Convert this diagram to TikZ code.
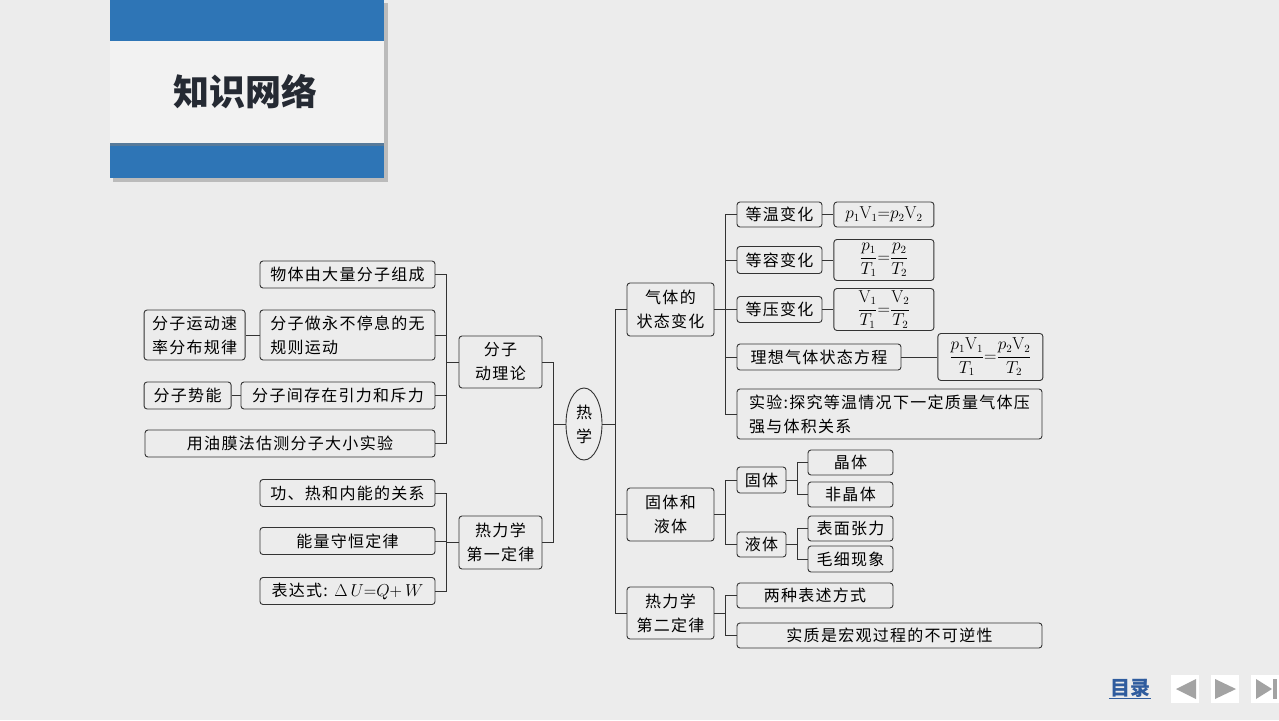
\documentclass[tikz,border=0pt]{standalone}
\usepackage[no-math]{fontspec}
\setmainfont{Noto Sans CJK SC}[LetterSpace=8]
\newfontfamily\titlefont{Noto Sans CJK SC}
\usepackage{xcolor}
\usepackage{tikz}
\usetikzlibrary{shapes.geometric,positioning}

\definecolor{bandblue}{HTML}{2E75B6}
\definecolor{titlegray}{HTML}{F2F2F2}
\definecolor{titleink}{HTML}{252A33}
\definecolor{paper}{HTML}{ECECEC}
\definecolor{ink}{HTML}{333333}
\definecolor{navblue}{HTML}{2F5C9E}
\definecolor{navgray}{HTML}{A3A3A3}

\begin{document}
\begin{tikzpicture}[
  x=1pt, y=-1pt,
  box/.style={draw=ink, line width=0.9pt, rounded corners=3pt, align=center, inner sep=2pt, font=\fontsize{16}{24}\selectfont},
  sz/.style 2 args={minimum width=#1pt, minimum height=#2pt},
  link/.style={draw=ink, line width=0.8pt}
]
  \useasboundingbox (0,0) rectangle (1279,720);
  \fill[paper] (0,0) rectangle (1279,720);

  % title card
  \fill[black!45, opacity=0.5] (113,3) rectangle (388,182);
  \fill[bandblue] (110,0) rectangle (384,41);
  \fill[titlegray] (110,41) rectangle (384,143);
  \fill[bandblue] (110,143) rectangle (384,178);
  \fill[black!50, opacity=0.5] (110,143) rectangle (384,146);
  \node[font=\titlefont\bfseries\fontsize{36}{36}\selectfont, text=titleink] (title) at (245,92) {知识网络};

  % centre
  \node[draw=ink, line width=0.9pt, ellipse, fill=black!7, minimum width=36pt, minimum height=72pt, inner sep=0pt, align=center, font=\fontsize{16}{24}\selectfont] (heat) at (584,424) {热\\学};

  % left: kinetic theory
  \node[box, sz={83}{52}] (kin) at (500.5,362) {分子\\动理论};
  \node[box, sz={175}{27}] (m1) at (347.5,274.5) {物体由大量分子组成};
  \node[box, sz={175}{50}, align=left] (m2) at (347.5,335) {分子做永不停息的无\\规则运动};
  \node[box, sz={101}{50}, align=left, left=14pt of m2] (m2a) {分子运动速\\率分布规律};
  \node[box, sz={194}{27}] (m3) at (338,395.5) {分子间存在引力和斥力};
  \node[box, sz={87}{27}, left=9pt of m3] (m3a) {分子势能};
  \node[box, sz={290}{27}] (m4) at (290,443.5) {用油膜法估测分子大小实验};

  % left: first law
  \node[box, sz={83}{53}] (first) at (500.5,542.5) {热力学\\第一定律};
  \node[box, sz={175}{27}] (f1) at (347.5,493) {功、热和内能的关系};
  \node[box, sz={175}{27}] (f2) at (347.5,541) {能量守恒定律};
  \node[box, sz={175}{27}] (f3) at (347.5,591) {表达式: $\Delta\,U{=}Q{+}\,W$};

  % right: gas
  \node[box, sz={87}{53}] (gas) at (670.5,309.5) {气体的\\状态变化};
  \node[box, sz={85}{25}] (iso) at (779.5,214.5) {等温变化};
  \node[box, sz={100}{25}, right=11pt of iso] (isoF) {$p_1\mathrm{V}_1{=}p_2\mathrm{V}_2$};
  \node[box, sz={85}{27}] (isc) at (779.5,260) {等容变化};
  \node[box, sz={100}{41}, right=11pt of isc] (iscF) {$\displaystyle\frac{p_1}{T_1}{=}\frac{p_2}{T_2}$};
  \node[box, sz={85}{26}] (isb) at (779.5,309.5) {等压变化};
  \node[box, sz={100}{40}, right=11pt of isb] (isbF) {$\displaystyle\frac{\mathrm{V}_1}{T_1}{=}\frac{\mathrm{V}_2}{T_2}$};
  \node[box, sz={164}{26}] (ideal) at (819,357) {理想气体状态方程};
  \node[box, sz={105}{47}, right=36pt of ideal] (idealF) {$\displaystyle\frac{p_1\mathrm{V}_1}{T_1}{=}\frac{p_2\mathrm{V}_2}{T_2}$};
  \node[box, sz={305}{50}, align=left] (exp) at (889.5,414) {实验:探究等温情况下一定质量气体压\\强与体积关系};

  % right: solids and liquids
  \node[box, sz={87}{53}] (sl) at (670.5,514.5) {固体和\\液体};
  \node[box, sz={49}{26}] (solid) at (761.5,480) {固体};
  \node[box, sz={49}{25}] (liquid) at (761.5,544.5) {液体};
  \node[box, sz={85}{25}] (cry) at (850.5,462.5) {晶体};
  \node[box, sz={85}{25}] (amo) at (850.5,494.5) {非晶体};
  \node[box, sz={85}{25}] (surf) at (850.5,528.5) {表面张力};
  \node[box, sz={85}{26}] (capil) at (850.5,559) {毛细现象};

  % right: second law
  \node[box, sz={87}{52}] (second) at (670.5,613) {热力学\\第二定律};
  \node[box, sz={156}{25}] (s1) at (815,595.5) {两种表述方式};
  \node[box, sz={305}{25}] (s2) at (889.5,635.5) {实质是宏观过程的不可逆性};

  % connectors
  \foreach \c in {kin,first} \draw[link] (heat.west) -- ++(-12,0) |- (\c.east);
  \foreach \c in {gas,sl,second} \draw[link] (heat.east) -- ++(13,0) |- (\c.west);
  \foreach \c in {m1,m2,m3,m4} \draw[link] (kin.west) -- ++(-12,0) |- (\c.east);
  \foreach \c in {f1,f2,f3} \draw[link] (first.west) -- ++(-12,0) |- (\c.east);
  \foreach \c in {iso,isc,isb,ideal,exp} \draw[link] (gas.east) -- ++(11,0) |- (\c.west);
  \foreach \c in {solid,liquid} \draw[link] (sl.east) -- ++(11,0) |- (\c.west);
  \foreach \c in {cry,amo} \draw[link] (solid.east) -- ++(11,0) |- (\c.west);
  \foreach \c in {surf,capil} \draw[link] (liquid.east) -- ++(11,0) |- (\c.west);
  \foreach \c in {s1,s2} \draw[link] (second.east) -- ++(11,0) |- (\c.west);
  \draw[link] (m2a) -- (m2);
  \draw[link] (m3a) -- (m3);
  \draw[link] (iso) -- (isoF);
  \draw[link] (isc) -- (iscF);
  \draw[link] (isb) -- (isbF);
  \draw[link] (ideal) -- (idealF);

  % navigation
  \node[font=\titlefont\bfseries\fontsize{20}{20}\selectfont, text=navblue, inner sep=1pt] (toc) at (1130,688) {目录};
  \draw[navblue, line width=1.2pt] (toc.south west) -- (toc.south east);
  \fill[white] (1171,675) rectangle (1199,703);
  \fill[navgray] (1176,689) -- (1196,679) -- (1196,699) -- cycle;
  \fill[white] (1211,675) rectangle (1239,703);
  \fill[navgray] (1215,679) -- (1236,689) -- (1215,699) -- cycle;
  \fill[white] (1251,675) rectangle (1279,703);
  \fill[navgray] (1256,679) -- (1272,689) -- (1256,699) -- cycle;
  \fill[navgray] (1273,679) rectangle (1277,699);
\end{tikzpicture}
\end{document}
